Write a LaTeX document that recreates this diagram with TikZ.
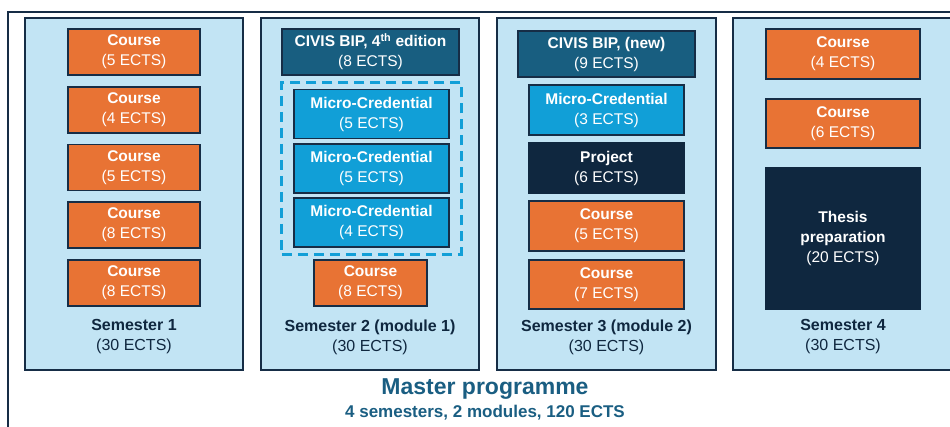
\documentclass[tikz,border=0pt]{standalone}
\usepackage{fontspec}
\setmainfont{Liberation Sans}
\usetikzlibrary{fit}
\definecolor{semblue}{RGB}{194,228,244}
\definecolor{framenavy}{RGB}{22,45,70}
\definecolor{courseorange}{RGB}{232,115,52}
\definecolor{civisteal}{RGB}{24,94,128}
\definecolor{microblue}{RGB}{17,159,215}
\definecolor{unitnavy}{RGB}{15,39,63}
\definecolor{titleteal}{RGB}{26,94,130}
\tikzset{
  sembox/.style={draw=framenavy, line width=1.6pt, fill=semblue},
  unit/.style={draw=framenavy, line width=1.3pt, align=center, text=white, inner sep=0pt,
    font=\fontsize{15.5}{20}\selectfont},
  course/.style={unit, fill=courseorange, minimum width=132pt, minimum height=46pt},
  civis/.style={unit, fill=civisteal, minimum width=177pt, minimum height=46pt},
  micro/.style={unit, fill=microblue, minimum width=155pt, minimum height=49pt},
  project/.style={unit, fill=unitnavy, draw=unitnavy, minimum width=155pt, minimum height=50pt},
  semlabel/.style={align=center, text=unitnavy, font=\fontsize{16}{20}\selectfont}
}
\newcommand{\unittext}[2]{\textbf{#1}\\#2}
\begin{document}
\begin{tikzpicture}[x=1pt,y=-1pt]
  \useasboundingbox (0,0) rectangle (950,426);
  \clip (0,0) rectangle (950,426);
  % outer frame
  \draw[framenavy, line width=1.2pt] (8,440) -- (8,12) -- (960,12);
  % semesters
  \draw[sembox] (25,18) rectangle (243,370);
  \draw[sembox] (261,18) rectangle (479,370);
  \draw[sembox] (497,18) rectangle (716,370);
  \draw[sembox] (733,18) rectangle (965,370);
  % semester 1
  \node[course] (s1a) at (134,52)    {\unittext{Course}{(5 ECTS)}};
  \node[course] (s1b) at (134,110)   {\unittext{Course}{(4 ECTS)}};
  \node[course] (s1c) at (134,167.5) {\unittext{Course}{(5 ECTS)}};
  \node[course] (s1d) at (134,225)   {\unittext{Course}{(8 ECTS)}};
  \node[course] (s1e) at (134,283)   {\unittext{Course}{(8 ECTS)}};
  \node[semlabel] (sem1) at (134,337) {\textbf{Semester 1}\\(30 ECTS)};
  % semester 2
  \node[civis] (s2bip) at (370.5,52) {\unittext{CIVIS BIP, 4\textsuperscript{th} edition}{(8 ECTS)}};
  \node[micro] (s2mca) at (371.5,114)   {\unittext{Micro-Credential}{(5 ECTS)}};
  \node[micro] (s2mcb) at (371.5,168.5) {\unittext{Micro-Credential}{(5 ECTS)}};
  \node[micro] (s2mcc) at (371.5,222.5) {\unittext{Micro-Credential}{(4 ECTS)}};
  \node[draw=microblue, line width=2.8pt, dash pattern=on 10pt off 6pt, inner xsep=11.5pt, inner ysep=6.5pt,
    fit=(s2mca)(s2mcc)] (s2group) {};
  \node[course, minimum width=113pt] (s2a) at (370.5,283) {\unittext{Course}{(8 ECTS)}};
  \node[semlabel] (sem2) at (370,337) {\textbf{Semester 2 (module 1)}\\(30 ECTS)};
  % semester 3
  \node[civis] (s3bip) at (606.5,54) {\unittext{CIVIS BIP, (new)}{(9 ECTS)}};
  \node[micro, minimum height=50pt] (s3mc) at (606.5,110) {\unittext{Micro-Credential}{(3 ECTS)}};
  \node[project] (s3proj) at (606.5,168) {\unittext{Project}{(6 ECTS)}};
  \node[course, minimum width=155pt, minimum height=50pt] (s3a) at (606.5,226) {\unittext{Course}{(5 ECTS)}};
  \node[course, minimum width=155pt, minimum height=49pt] (s3b) at (606.5,284.5) {\unittext{Course}{(7 ECTS)}};
  \node[semlabel] (sem3) at (606.5,337) {\textbf{Semester 3 (module 2)}\\(30 ECTS)};
  % semester 4
  \node[course, minimum width=154pt, minimum height=50pt] (s4a) at (843,54)    {\unittext{Course}{(4 ECTS)}};
  \node[course, minimum width=154pt, minimum height=49pt] (s4b) at (843,123.5) {\unittext{Course}{(6 ECTS)}};
  \node[project, minimum width=154pt, minimum height=141pt] (s4thesis) at (843,238.5)
    {\textbf{Thesis}\\\textbf{preparation}\\(20 ECTS)};
  \node[semlabel] (sem4) at (843,337) {\textbf{Semester 4}\\(30 ECTS)};
  % programme title
  \node[text=titleteal, font=\fontsize{23}{26}\selectfont\bfseries] (master) at (485,389) {Master programme};
  \node[text=titleteal, font=\fontsize{17}{19}\selectfont\bfseries] (mastersub) at (485,413) {4 semesters, 2 modules, 120 ECTS};
\end{tikzpicture}
\end{document}
